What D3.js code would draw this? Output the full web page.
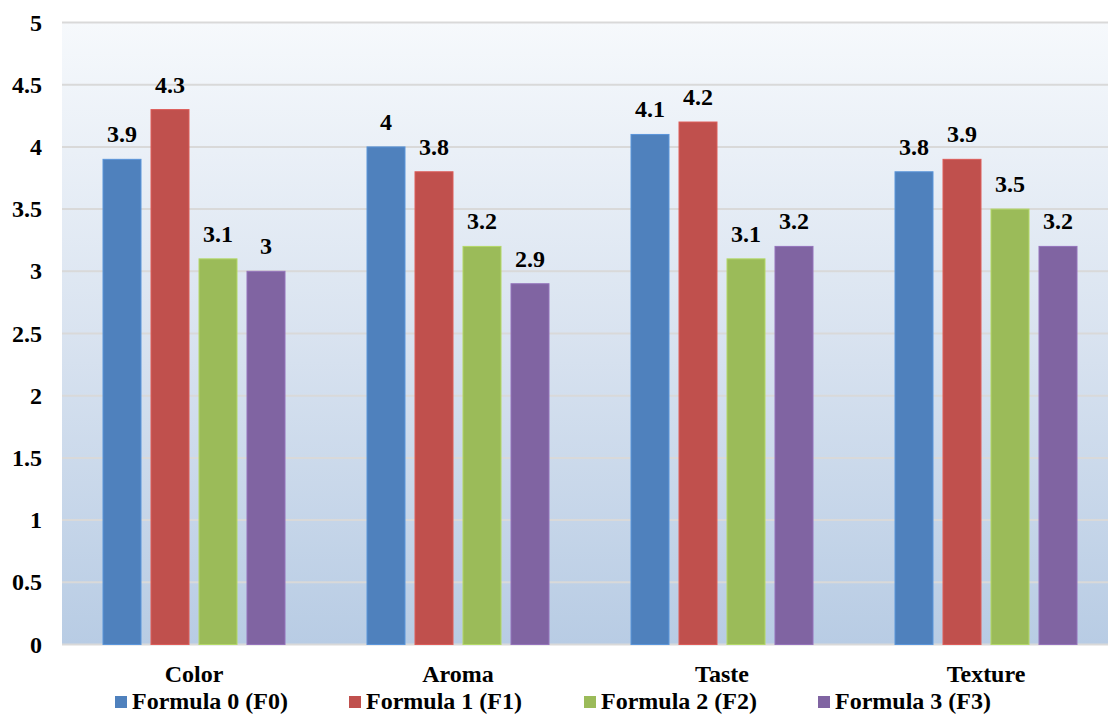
<!DOCTYPE html>
<html>
<head>
<meta charset="utf-8">
<script src="https://cdn.jsdelivr.net/npm/d3@7"></script>
</head>
<body style="margin:0">
<svg id="chart" width="1108" height="718"></svg>
<script>
// Sensory scores per attribute for each formula
const categories = ["Color", "Aroma", "Taste", "Texture"];
const seriesNames = ["Formula 0 (F0)", "Formula 1 (F1)", "Formula 2 (F2)", "Formula 3 (F3)"];
const f0 = [3.9, 4.0, 4.1, 3.8];
const f1 = [4.3, 3.8, 4.2, 3.9];
const f2 = [3.1, 3.2, 3.1, 3.5];
const f3 = [3.0, 2.9, 3.2, 3.2];
const seriesValues = [f0, f1, f2, f3];
const yTicks = [0, 0.5, 1, 1.5, 2, 2.5, 3, 3.5, 4, 4.5, 5];
const colors = ["#4f81bd", "#c0504d", "#9bbb59", "#8064a2"];

// all chart text: bold Times-style serif
const styleText = sel => sel
  .style("font-family", '"Times New Roman"')
  .style("font-weight", "bold")
  .style("font-size", "24px");

const svg = d3.select("#chart");
const margin = { left: 62, top: 22.5 };
const plotW = 1056;
const plotH = 622;

const x0 = d3.scaleBand().domain(categories).range([0, plotW]).paddingInner(0).paddingOuter(0);
const x1 = d3.scaleBand().domain(d3.range(seriesNames.length))
  .range([41, 41 + 4 * 48 - 10]).paddingInner(10 / 48).paddingOuter(0);
const y = d3.scaleLinear().domain([0, 5]).range([plotH, 0]);

// background gradient
const defs = svg.append("defs");
const grad = defs.append("linearGradient").attr("id", "bg").attr("x1", 0).attr("y1", 0).attr("x2", 0).attr("y2", 1);
grad.append("stop").attr("offset", "0%").attr("stop-color", "#f6f9fc");
grad.append("stop").attr("offset", "50%").attr("stop-color", "#d9e3f0");
grad.append("stop").attr("offset", "100%").attr("stop-color", "#b8cce4");

const g = svg.append("g").attr("transform", `translate(${margin.left},${margin.top})`);

g.append("rect").attr("x", 0).attr("y", 0).attr("width", plotW).attr("height", plotH)
  .attr("fill", "url(#bg)");

// gridlines
g.append("g").selectAll("line").data(yTicks).join("line")
  .attr("x1", 0).attr("x2", plotW)
  .attr("y1", d => y(d)).attr("y2", d => y(d))
  .attr("stroke", "#d9d9d9").attr("stroke-width", 2);

// y axis labels
const yAxis = d3.axisLeft(y).tickValues(yTicks).tickSize(0).tickPadding(20).tickFormat(d3.format("~g"));
const ya = g.append("g").call(yAxis).attr("font-family", null).attr("font-size", null);
ya.select(".domain").remove();
ya.selectAll("text").call(styleText);

// bars with value labels
const groups = g.append("g").selectAll("g").data(categories).join("g")
  .attr("transform", c => `translate(${x0(c)},0)`);

groups.each(function (c, ci) {
  const sel = d3.select(this);
  seriesValues.forEach((vals, si) => {
    const v = vals[ci];
    sel.append("rect")
      .attr("x", x1(si)).attr("width", x1.bandwidth())
      .attr("y", y(v)).attr("height", y(0) - y(v))
      .attr("fill", colors[si])
      .attr("stroke", d3.color(colors[si]).brighter(0.4)).attr("stroke-width", 1);
    sel.append("text")
      .attr("x", x1(si) + x1.bandwidth() / 2)
      .attr("y", y(v) - 17)
      .attr("text-anchor", "middle")
      .call(styleText)
      .text(d3.format("~g")(v));
  });
});

// category labels
const xAxis = d3.axisBottom(x0).tickSize(0).tickPadding(0);
const xa = g.append("g").attr("transform", `translate(0,${plotH})`).call(xAxis)
  .attr("font-family", null).attr("font-size", null);
xa.select(".domain").remove();
xa.selectAll("text").attr("dy", null).attr("y", 37.5).call(styleText);

// legend
const legendX = [115, 349, 584, 818];
const legend = svg.append("g").selectAll("g").data(seriesNames).join("g")
  .attr("transform", (d, i) => `translate(${legendX[i]},709)`);
legend.append("rect").attr("x", 0).attr("y", -13).attr("width", 12).attr("height", 12)
  .attr("fill", (d, i) => colors[i]);
legend.append("text").attr("x", 17).attr("y", 0).call(styleText).text(d => d);
</script>
</body>
</html>
